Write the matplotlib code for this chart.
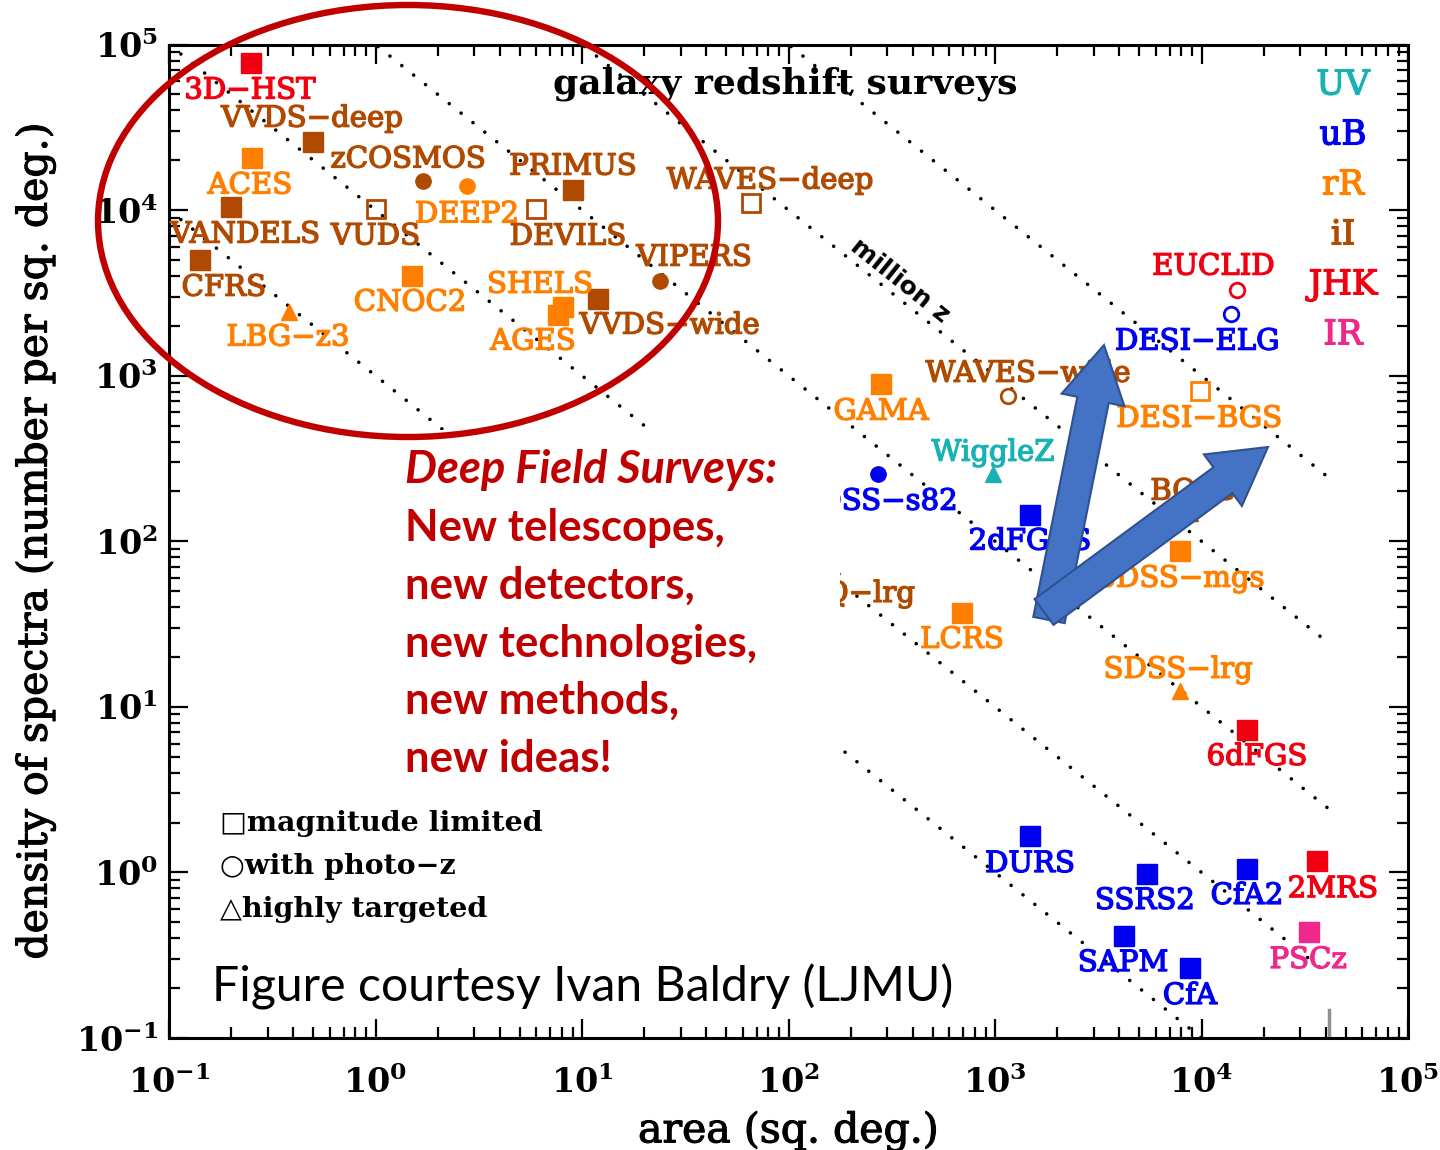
import numpy as np
import matplotlib
matplotlib.use("Agg")
import matplotlib.pyplot as plt
import matplotlib.patheffects as pe
from matplotlib.patches import Ellipse, Rectangle, FancyArrow

# ---------------- data ----------------
names = ["3D\u2212HST", "VVDS\u2212deep", "ACES", "VANDELS", "CFRS", "LBG\u2212z3",
         "zCOSMOS", "DEEP2", "VUDS", "DEVILS", "PRIMUS", "WAVES\u2212deep",
         "CNOC2", "SHELS", "AGES", "VVDS\u2212wide", "VIPERS", "GAMA",
         "WAVES\u2212wide", "WiggleZ", "SDSS\u2212s82", "2dFGRS", "BOSS", "SDSS\u2212mgs",
         "2SLAQ\u2212lrg", "LCRS", "SDSS\u2212lrg", "6dFGS", "DURS", "SSRS2", "CfA2",
         "2MRS", "SAPM", "CfA", "PSCz", "EUCLID", "DESI\u2212ELG", "DESI\u2212BGS"]
area = [0.249, 0.498, 0.252, 0.200, 0.141, 0.381,
        1.70, 2.77, 1.00, 5.98, 9.04, 65.8,
        1.50, 8.09, 7.65, 11.9, 23.9, 281,
        1156, 977, 271, 1476, 8790, 7870,
        163, 692, 7870, 16600, 1476, 5440, 16600,
        36200, 4220, 8790, 33200, 14900, 13900, 9840]
density = [76800, 25900, 20500, 10500, 5020, 2440,
           14900, 13900, 10100, 10200, 13300, 11100,
           4020, 2610, 2340, 2920, 3750, 895,
           757, 256, 256, 145, 149, 87.7,
           71, 37, 12.5, 7.26, 1.66, 0.98, 1.05,
           1.17, 0.413, 0.265, 0.437, 3310, 2370, 811]
kind = ["sq", "sq", "sq", "sq", "sq", "tri",
        "ci", "ci", "sqo", "sqo", "sq", "sqo",
        "sq", "sq", "sq", "sq", "ci", "sq",
        "cio", "tri", "ci", "sq", "tri", "sq",
        "tri", "sq", "tri", "sq", "sq", "sq", "sq",
        "sq", "sq", "sq", "sq", "cio", "cio", "sqo"]
band = ["JHK", "iI", "rR", "iI", "iI", "rR",
        "iI", "rR", "iI", "iI", "iI", "iI",
        "rR", "rR", "rR", "iI", "iI", "rR",
        "iI", "UV", "uB", "uB", "iI", "rR",
        "iI", "rR", "rR", "JHK", "uB", "uB", "uB",
        "JHK", "uB", "uB", "IR", "JHK", "uB", "rR"]

band_names = ["UV", "uB", "rR", "iI", "JHK", "IR"]
band_colors = ["#19B2B2", "#0000F0", "#FF8000", "#B04A00", "#F00010", "#F0288C"]

total_numbers = [1e3, 1e4, 1e5, 1e6, 1e7]
FULL_SKY = 41253.0

legend_texts = ["\u25a1magnitude limited", "\u25cbwith photo\u2212z", "\u25b3highly targeted"]
deep_lines = ["Deep Field Surveys:", "New telescopes,", "new detectors,",
              "new technologies,", "new methods,", "new ideas!"]

# label offsets (pixels, relative to marker)
label_dx = [-1, -1, -2, 14, 24, -1,
            -15, 0, 0, 32, 0, 19,
            -2, -23, -25, 72, 34, 0,
            20, 0, 0, 0, 3, 0,
            -2, 0, -2, 10, 0, -2, 0,
            16, -1, 0, -1, -24, -34, -1]
label_dy = [-24, 26, -24, -25, -25, -23,
            25, -25, -24, -25, 26, 25,
            -24, 25, -24, -24, 26, -25,
            25, 24, -25, -24, 24, -25,
            -25, -24, 24, -24, -25, -24, -24,
            -25, -24, -25, -25, 26, -25, -25]

# ---------------- figure ----------------
plt.rcParams["font.family"] = ["DejaVu Serif", "DejaVu Sans"]
plt.rcParams["mathtext.fontset"] = "dejavuserif"

W, H = 1440, 1150
fig = plt.figure(figsize=(W / 100, H / 100), dpi=100)
fig.patch.set_facecolor("white")
L, R, T, B = 169, 1408, 44.5, 1038
ax = fig.add_axes([L / W, (H - B) / H, (R - L) / W, (B - T) / H])
ax.set_xscale("log")
ax.set_yscale("log")
ax.set_xlim(1e-1, 1e5)
ax.set_ylim(1e-1, 1e5)

# lines of constant total number
xl = np.logspace(-1, np.log10(FULL_SKY), 400)
for N in total_numbers:
    ax.plot(xl, N / xl, color="black", lw=2.6, linestyle=(0, (0.01, 4.2)),
            dash_capstyle="round", zorder=1)

ax.axvline(FULL_SKY, ymin=0, ymax=0.028, color="#909090", lw=2.5, zorder=1)

cmap = dict(zip(band_names, band_colors))
for nm, x, y, k, b, dx, dy in zip(names, area, density, kind, band, label_dx, label_dy):
    c = cmap[b]
    if k == "sq":
        ax.plot(x, y, "s", ms=14, mfc=c, mec=c, zorder=3)
    elif k == "sqo":
        ax.plot(x, y, "s", ms=13.5, mfc="none", mec=c, mew=2.0, zorder=3)
    elif k == "ci":
        ax.plot(x, y, "o", ms=11, mfc=c, mec=c, zorder=3)
    elif k == "cio":
        ax.plot(x, y, "o", ms=10.5, mfc="none", mec=c, mew=2.0, zorder=3)
    else:
        ax.plot(x, y, "^", ms=11, mfc=c, mec=c, zorder=3)
    ax.annotate(nm, (x, y), xytext=(dx, dy - 3), textcoords="offset pixels",
                ha="center", va="center", color=c, fontsize=21, zorder=4,
                path_effects=[pe.withStroke(linewidth=1.0, foreground=c)])

ax.text(0.497, 0.960, "galaxy redshift surveys", transform=ax.transAxes,
        ha="center", va="center", fontsize=26, fontweight="bold", color="black")

for i, (bn, bc) in enumerate(zip(band_names, band_colors)):
    ax.text(0.9475, 0.9618 - i * 0.0503 - 0.003, bn, transform=ax.transAxes,
            ha="center", va="center", fontsize=24.5, color=bc,
            path_effects=[pe.withStroke(linewidth=1.0, foreground=bc)])

for i, t in enumerate(legend_texts):
    ax.text(0.041, (B - (821 + 43 * i)) / (B - T) - 0.003, t, transform=ax.transAxes,
            ha="left", va="center", fontsize=20.5, fontweight="bold", color="black")

ax.text(347, 3760, "million z", rotation=-38.7, ha="center", va="center",
        fontsize=18, fontweight="bold", family="DejaVu Sans", color="black",
        rotation_mode="anchor", zorder=4)

# axes styling
for s in ax.spines.values():
    s.set_linewidth(2.2)
ax.tick_params(which="both", direction="in", top=True, right=True, width=1.6)
ax.tick_params(which="major", length=14)
ax.tick_params(which="minor", length=8)
dec = [1e-1, 1, 10, 100, 1e3, 1e4, 1e5]
declab = [r"$\mathbf{10^{-1}}$", r"$\mathbf{10^{0}}$", r"$\mathbf{10^{1}}$", r"$\mathbf{10^{2}}$",
          r"$\mathbf{10^{3}}$", r"$\mathbf{10^{4}}$", r"$\mathbf{10^{5}}$"]
ax.set_xticks(dec)
ax.set_xticklabels(declab, fontsize=24)
ax.set_yticks(dec)
ax.set_yticklabels(declab, fontsize=24)
ax.tick_params(axis="x", which="major", pad=20)
ax.tick_params(axis="y", which="major", pad=8)
ax.set_xlabel("area (sq. deg.)", fontsize=29.5, labelpad=8)
ax.set_ylabel("density of spectra (number per sq. deg.)", fontsize=29.5, labelpad=14,
              path_effects=[pe.withStroke(linewidth=0.8, foreground="black")])
ax.xaxis.label.set_path_effects([pe.withStroke(linewidth=0.8, foreground="black")])

# ---------------- overlay (slide annotations) ----------------
ov = fig.add_axes([0, 0, 1, 1], zorder=10)
ov.set_xlim(0, W)
ov.set_ylim(H, 0)
ov.axis("off")
ov.patch.set_alpha(0)

ov.add_patch(Rectangle((396, 430), 444, 360, facecolor="white", edgecolor="none", zorder=1))
ov.add_patch(Ellipse((408, 221), 620, 432, fill=False, edgecolor="#C00000", lw=4.6, zorder=3))

for i, t in enumerate(deep_lines):
    ov.text(405, 483 + 57.7 * i, t, ha="left", va="baseline",
            fontsize=32.5 if i == 0 else 31.5,
            fontweight="bold", fontstyle="italic" if i == 0 else "normal",
            family="Lato", color="#C00000", zorder=4)

ov.text(212, 1002, "Figure courtesy Ivan Baldry (LJMU)", ha="left", va="baseline",
        fontsize=34.7, family="Lato", color="black", zorder=4)

for (x0, y0, x1, y1) in [(1049, 620, 1104, 345), (1044, 612, 1268, 447)]:
    ov.add_patch(FancyArrow(x0, y0, x1 - x0, y1 - y0, width=32, head_width=64,
                            head_length=56, length_includes_head=True,
                            facecolor="#4472C4", edgecolor="#2F528F", lw=1.5, zorder=5))

fig.savefig("out.png", dpi=100)
